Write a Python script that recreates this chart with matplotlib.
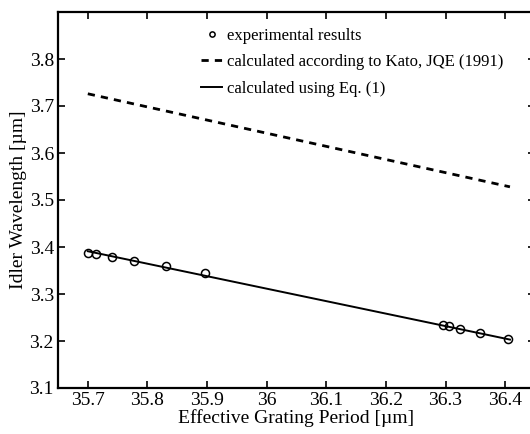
import matplotlib
matplotlib.use("Agg")
import matplotlib.pyplot as plt
from matplotlib.legend_handler import HandlerLine2D

# experimental points
period_exp = [35.700, 35.713, 35.740, 35.778, 35.831, 35.897,
              36.296, 36.305, 36.324, 36.358, 36.404]
idler_exp = [3.387, 3.385, 3.379, 3.371, 3.360, 3.345,
             3.233, 3.232, 3.226, 3.216, 3.204]

# calculated curves (straight lines, end points)
period_calc = [35.70, 36.408]
idler_kato = [3.726, 3.528]
idler_eq1 = [3.391, 3.203]

x_ticks = [35.7, 35.8, 35.9, 36.0, 36.1, 36.2, 36.3, 36.4]
x_ticklabels = ["35.7", "35.8", "35.9", "36", "36.1", "36.2", "36.3", "36.4"]
y_ticks = [3.1, 3.2, 3.3, 3.4, 3.5, 3.6, 3.7, 3.8]


# legend marker sits at the left end of the handle, like the original
class LeftMarkerHandler(HandlerLine2D):
    def get_xdata(self, legend, xdescent, ydescent, width, height, fontsize):
        xdata, _ = super().get_xdata(legend, xdescent, ydescent, width, height, fontsize)
        return xdata, [0.05 * width - xdescent]


plt.rcParams['font.family'] = ['Liberation Serif', 'DejaVu Serif']

fig = plt.figure(figsize=(5.30, 4.34), dpi=100)
ax = fig.add_axes([58 / 530, 1 - 388 / 434, 477 / 530, 376 / 434])

exp_line, = ax.plot(period_exp, idler_exp, linestyle='none', marker='o', markersize=5.8,
                    markerfacecolor='none', markeredgecolor='black', markeredgewidth=1.1,
                    label='experimental results')
ax.plot(period_calc, idler_kato, color='black', linewidth=2.0,
        linestyle=(0, (2.6, 2.2)), label='calculated according to Kato, JQE (1991)')
ax.plot(period_calc, idler_eq1, color='black', linewidth=1.4,
        label='calculated using Eq. (1)')

ax.set_xlim(35.65, 36.45)
ax.set_ylim(3.1, 3.9)
ax.set_xticks(x_ticks)
ax.set_xticklabels(x_ticklabels)
ax.set_yticks(y_ticks)
ax.tick_params(direction='in', top=True, right=True, length=5, width=1.2,
               labelsize=14, pad=3)
for side in ['left', 'bottom', 'top', 'right']:
    ax.spines[side].set_linewidth(1.6)

ax.set_xlabel('Effective Grating Period [\u00b5m]', fontsize=14, labelpad=0)
ax.set_ylabel('Idler Wavelength [\u00b5m]', fontsize=14, labelpad=2)

ax.legend(loc='upper left', bbox_to_anchor=(201 / 530, 1 - 28 / 434),
          bbox_transform=fig.transFigure, frameon=False, fontsize=12,
          handlelength=1.26, handletextpad=0.3, labelspacing=0.62,
          borderpad=0, borderaxespad=0, markerscale=0.65,
          handler_map={exp_line: LeftMarkerHandler(numpoints=1)})

fig.savefig('out.png', dpi=100)
